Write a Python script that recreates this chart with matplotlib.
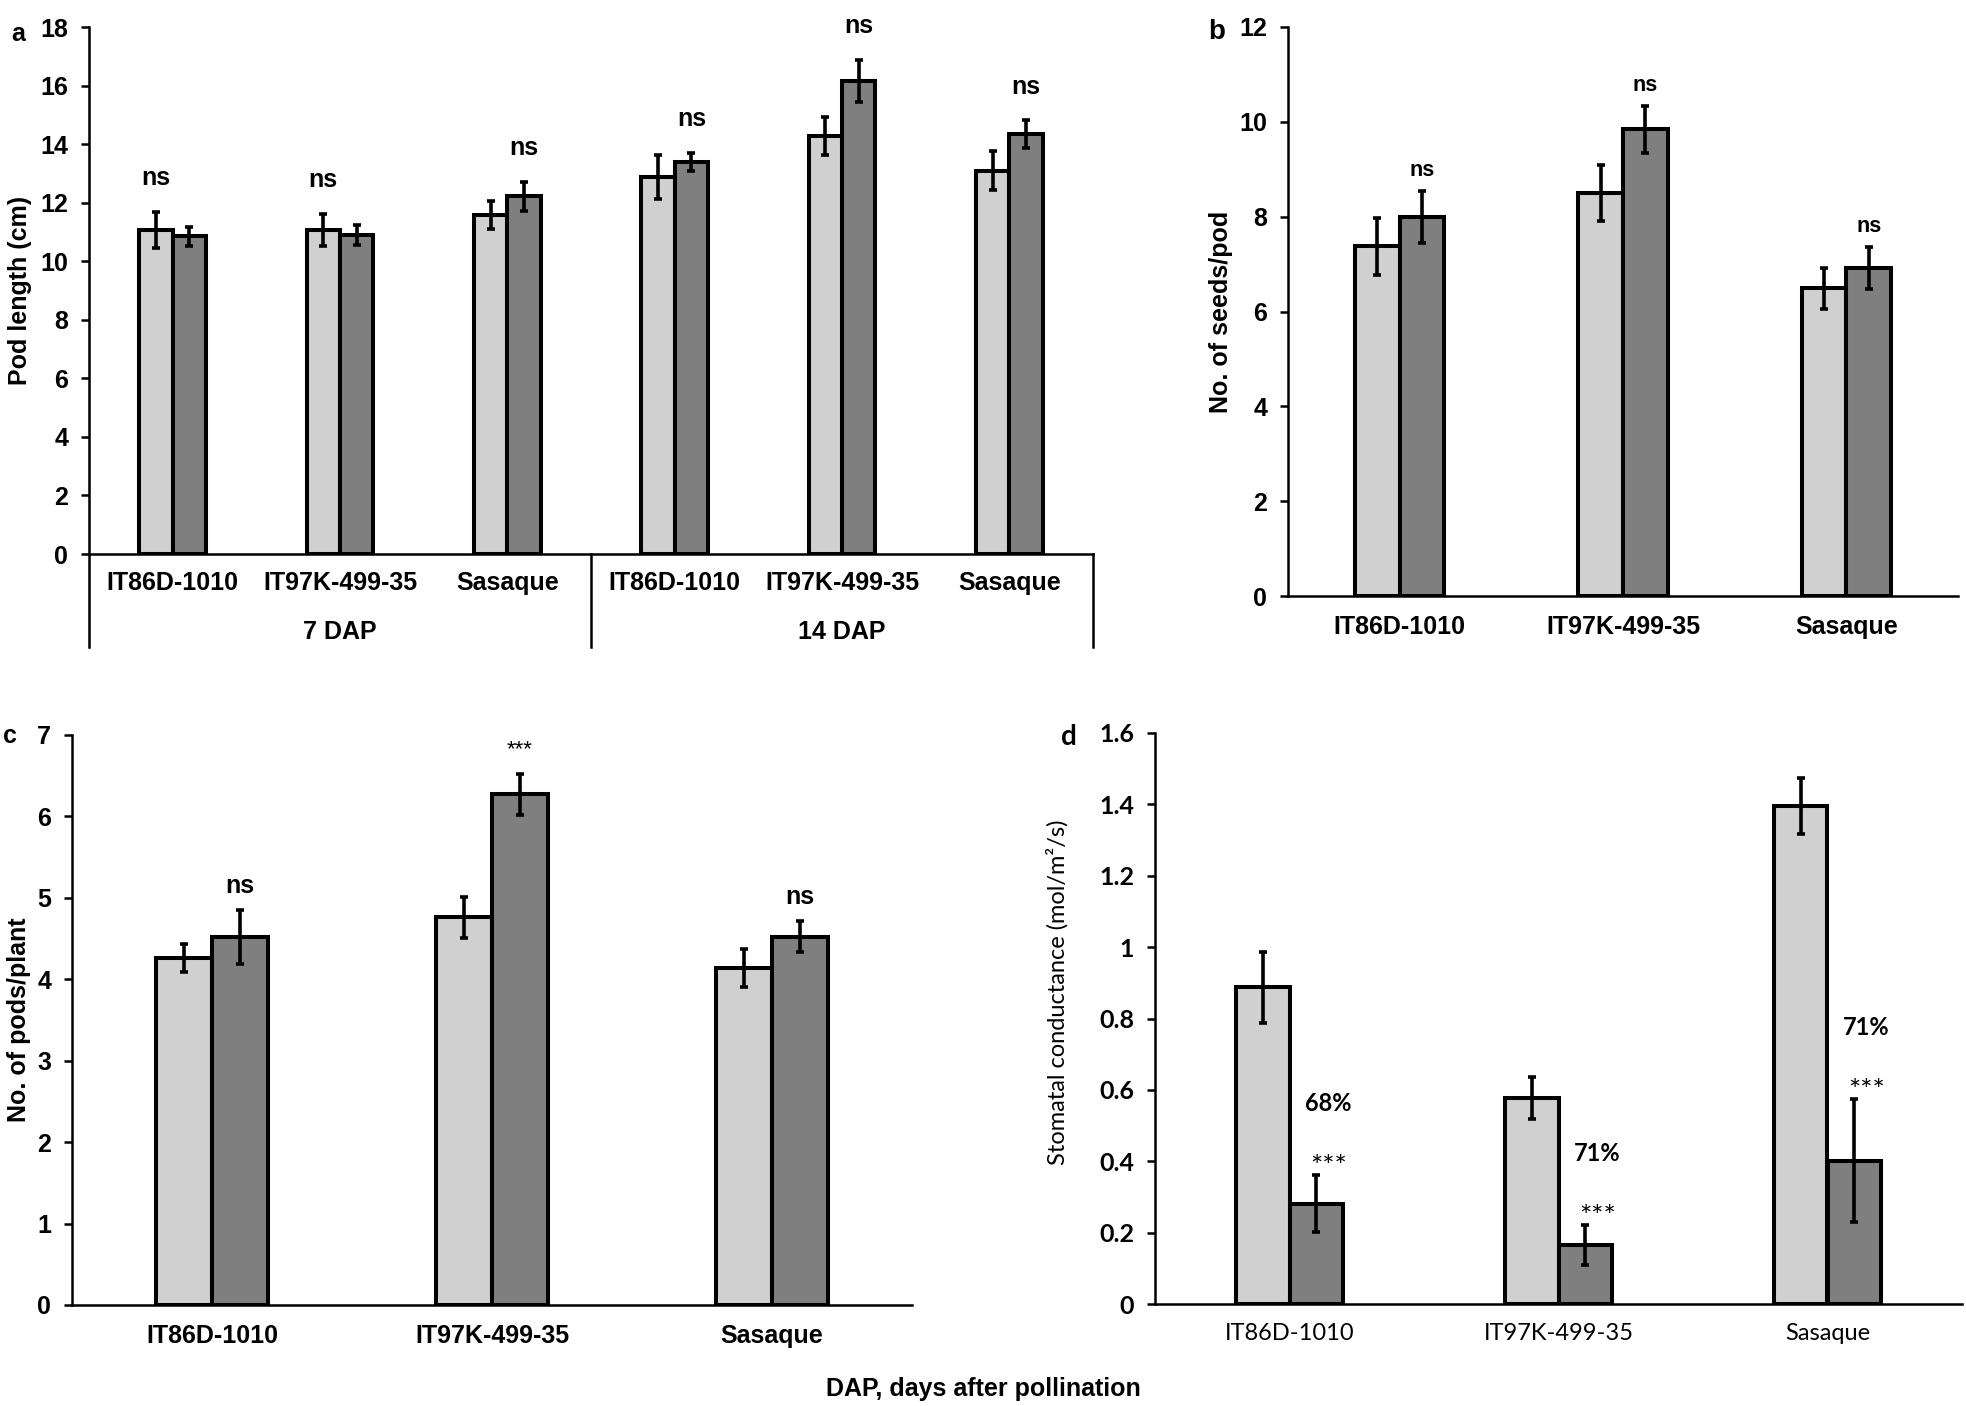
import numpy as np
import matplotlib.pyplot as plt
import matplotlib.transforms as transforms

plt.rcParams['font.family'] = ['Liberation Sans', 'DejaVu Sans']
calibri = ['Lato', 'DejaVu Sans']

cultivars = ["IT86D-1010", "IT97K-499-35", "Sasaque"]
stages = ["7 DAP", "14 DAP"]

# a - pod length (cm), 7 DAP cultivars then 14 DAP cultivars
pod_len_light = [11.07, 11.07, 11.57, 12.87, 14.29, 13.09]
pod_len_light_err = [0.61, 0.54, 0.47, 0.75, 0.65, 0.67]
pod_len_dark = [10.85, 10.9, 12.22, 13.4, 16.15, 14.34]
pod_len_dark_err = [0.33, 0.33, 0.5, 0.31, 0.72, 0.47]
pod_len_sig = ["ns", "ns", "ns", "ns", "ns", "ns"]

# b - seeds per pod
seeds_light = [7.38, 8.49, 6.49]
seeds_light_err = [0.6, 0.59, 0.43]
seeds_dark = [8.0, 9.84, 6.92]
seeds_dark_err = [0.55, 0.49, 0.44]
seeds_sig = ["ns", "ns", "ns"]

# c - pods per plant
pods_light = [4.26, 4.76, 4.14]
pods_light_err = [0.17, 0.25, 0.23]
pods_dark = [4.52, 6.27, 4.52]
pods_dark_err = [0.33, 0.25, 0.19]
pods_sig = ["ns", "***", "ns"]

# d - stomatal conductance (mol/m2/s)
gs_light = [0.887, 0.577, 1.395]
gs_light_err = [0.1, 0.06, 0.078]
gs_dark = [0.281, 0.165, 0.402]
gs_dark_err = [0.08, 0.056, 0.172]
gs_sig = ["***", "***", "***"]
gs_drop = ["68%", "71%", "71%"]

light = '#d0d0d0'
dark = '#7f7f7f'
w = 0.2
W, H = 1966, 1406

fig = plt.figure(figsize=(W / 100, H / 100), dpi=100)
ax_a = fig.add_axes([89 / W, 1 - 554 / H, 1004 / W, 527 / H])
ax_b = fig.add_axes([1288 / W, 1 - 596 / H, 670 / W, 569 / H])
ax_c = fig.add_axes([72 / W, 1 - 1305 / H, 840 / W, 570 / H])
ax_d = fig.add_axes([1155 / W, 1 - 1304 / H, 807 / W, 571 / H])


def draw_bars(ax, lv, le, dv, de):
    x = np.arange(len(lv))
    ax.bar(x - w / 2, lv, w, color=light, edgecolor='black', linewidth=2.9, zorder=2)
    ax.bar(x + w / 2, dv, w, color=dark, edgecolor='black', linewidth=2.9, zorder=2)
    for xs, v, e in [(x - w / 2, lv, le), (x + w / 2, dv, de)]:
        ax.errorbar(xs, v, yerr=e, fmt='none', ecolor='black', elinewidth=2.6,
                    capsize=2.6, capthick=2.6, zorder=3)
    return x


def sig_labels(ax, x, lv, le, dv, de, labels, off, **kw):
    top_l = np.array(lv) + np.array(le)
    top_d = np.array(dv) + np.array(de)
    for i, lab in enumerate(labels):
        xs = x[i] - w / 2 if top_l[i] > top_d[i] else x[i] + w / 2
        ax.text(xs, max(top_l[i], top_d[i]) + off, lab, ha='center', va='center', **kw)


def style(ax, ymax, step, n, family=None):
    ax.set_xlim(-0.5, n - 0.5)
    ax.set_ylim(0, ymax)
    ticks = np.arange(0, ymax + step / 2, step)
    ax.set_yticks(ticks)
    ax.set_yticklabels(['%g' % t for t in ticks], fontsize=18, fontweight='bold',
                       family=family)
    for s in ['top', 'right']:
        ax.spines[s].set_visible(False)
    for s in ['left', 'bottom']:
        ax.spines[s].set_linewidth(1.8)
    ax.tick_params(axis='y', length=6, width=1.8, pad=9)
    ax.tick_params(axis='x', length=0, pad=14)


# a
x = draw_bars(ax_a, pod_len_light, pod_len_light_err, pod_len_dark, pod_len_dark_err)
sig_labels(ax_a, x, pod_len_light, pod_len_light_err, pod_len_dark, pod_len_dark_err,
           pod_len_sig, 1.15, fontsize=18, fontweight='bold')
style(ax_a, 18, 2, 6)
ax_a.set_xticks(x)
ax_a.set_xticklabels(cultivars * 2, fontsize=18, fontweight='bold')
ax_a.tick_params(axis='x', pad=12)
ax_a.set_ylabel('Pod length (cm)', fontsize=18, fontweight='bold')
ax_a.yaxis.set_label_coords(-0.057, 0.5)
trans = transforms.blended_transform_factory(ax_a.transData, ax_a.transAxes)
for xv in [-0.5, 2.5, 5.5]:
    ax_a.plot([xv, xv], [0, -0.176], transform=trans, color='black', lw=1.8, clip_on=False)
for i, st in enumerate(stages):
    ax_a.text(1 + 3 * i, -0.148, st, transform=trans, ha='center', va='center',
              fontsize=18, fontweight='bold')

# b
x = draw_bars(ax_b, seeds_light, seeds_light_err, seeds_dark, seeds_dark_err)
sig_labels(ax_b, x, seeds_light, seeds_light_err, seeds_dark, seeds_dark_err,
           seeds_sig, 0.43, fontsize=15.5, fontweight='bold')
style(ax_b, 12, 2, 3)
ax_b.set_xticks(x)
ax_b.set_xticklabels(cultivars, fontsize=18, fontweight='bold')
ax_b.set_ylabel('No. of seeds/pod', fontsize=18, fontweight='bold')
ax_b.yaxis.set_label_coords(-0.082, 0.5)

# c
x = draw_bars(ax_c, pods_light, pods_light_err, pods_dark, pods_dark_err)
for i, lab in enumerate(pods_sig):
    top = max(pods_light[i] + pods_light_err[i], pods_dark[i] + pods_dark_err[i])
    if lab == 'ns':
        ax_c.text(x[i] + w / 2, top + 0.3, lab, ha='center', va='center', fontsize=18,
                  fontweight='bold')
    else:
        ax_c.text(x[i] + w / 2, top + 0.3, lab, ha='center', va='center', fontsize=16)
style(ax_c, 7, 1, 3)
ax_c.set_xticks(x)
ax_c.set_xticklabels(cultivars, fontsize=18, fontweight='bold')
ax_c.set_ylabel('No. of pods/plant', fontsize=18, fontweight='bold')
ax_c.yaxis.set_label_coords(-0.049, 0.5)

# d
x = draw_bars(ax_d, gs_light, gs_light_err, gs_dark, gs_dark_err)
for i in range(len(x)):
    top = gs_dark[i] + gs_dark_err[i]
    ax_d.text(x[i] + w / 2 + 0.045, top + 0.02, gs_sig[i], ha='center', va='center',
              fontsize=21, family=calibri)
    ax_d.text(x[i] + w / 2 + 0.045, top + 0.2, gs_drop[i], ha='center', va='center',
              fontsize=17, fontweight='bold', family=calibri)
style(ax_d, 1.6, 0.2, 3, family=calibri)
ax_d.set_xticks(x)
ax_d.set_xticklabels(cultivars, fontsize=17, family=calibri)
ax_d.set_ylabel('Stomatal conductance (mol/m²/s)', fontsize=17, family=calibri)
ax_d.yaxis.set_label_coords(-0.107, 0.546)

# panel letters and common x label
fig.text(18 / W, 1 - 34 / H, 'a', ha='center', va='center', fontsize=18, fontweight='bold')
fig.text(1217 / W, 1 - 32 / H, 'b', ha='center', va='center', fontsize=20, fontweight='bold')
fig.text(10 / W, 1 - 736 / H, 'c', ha='center', va='center', fontsize=18, fontweight='bold')
fig.text(1069 / W, 1 - 737 / H, 'd', ha='center', va='center', fontsize=20,
         fontweight='bold', family=calibri)
fig.text(983 / W, 1 - 1389 / H, 'DAP, days after pollination', ha='center', va='center',
         fontsize=18, fontweight='bold')

fig.savefig('out.png', dpi=100)
